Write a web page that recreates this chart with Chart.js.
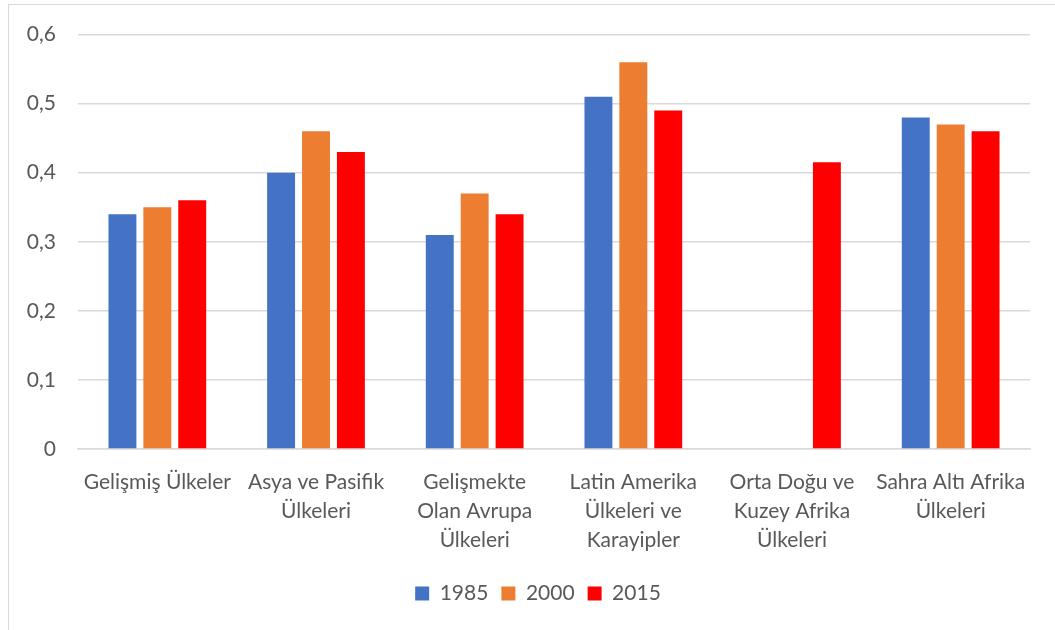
<!DOCTYPE html>
<html>
<head>
<meta charset="utf-8">
<script src="https://cdn.jsdelivr.net/npm/chart.js@4/dist/chart.umd.min.js"></script>
<style>
  html, body { margin: 0; padding: 0; background: #fff; }
  #frame { position: absolute; left: 8px; top: 4px; width: 1100px; height: 700px; border: 1px solid #d9d9d9; }
  #wrap { position: absolute; left: 0; top: 0; width: 1055px; height: 630px; }
</style>
</head>
<body>
<div id="frame"></div>
<div id="wrap"><canvas id="chart"></canvas></div>
<script>
// Bölgeler (kategori etiketleri, satırlara bölünmüş)
const regions = [
    ['Gelişmiş Ülkeler'],
    ['Asya ve Pasifik', 'Ülkeleri'],
    ['Gelişmekte', 'Olan Avrupa', 'Ülkeleri'],
    ['Latin Amerika', 'Ülkeleri ve', 'Karayipler'],
    ['Orta Doğu ve', 'Kuzey Afrika', 'Ülkeleri'],
    ['Sahra Altı Afrika', 'Ülkeleri']
];

// Yıllara göre değerler
const values1985 = [0.34, 0.40, 0.31, 0.51, null, 0.48];
const values2000 = [0.35, 0.46, 0.37, 0.56, null, 0.47];
const values2015 = [0.36, 0.43, 0.34, 0.49, 0.415, 0.46];

const yTicks = [0, 0.1, 0.2, 0.3, 0.4, 0.5, 0.6];

const textColor = '#595959';
const fontFamily = 'Lato, "Open Sans", sans-serif';

// Legend'ı grafik alanının ortasına kaydır (Excel'deki gibi)
const legendShift = {
    id: 'legendShift',
    afterLayout(chart) {
        const dx = 18;
        chart.legend.left += dx;
        chart.legend.right += dx;
    }
};

new Chart(document.getElementById('chart').getContext('2d'), {
    type: 'bar',
    data: {
        labels: regions,
        datasets: [
            { label: '1985', data: values1985, backgroundColor: '#4472c4' },
            { label: '2000', data: values2000, backgroundColor: '#ed7d31' },
            { label: '2015', data: values2015, backgroundColor: '#ff0000' }
        ]
    },
    options: {
        responsive: true,
        maintainAspectRatio: false,
        animation: false,
        datasets: {
            bar: { categoryPercentage: 0.66, barPercentage: 0.8 }
        },
        layout: { padding: { top: 16, right: 25, left: 10, bottom: 16 } },
        plugins: {
            tooltip: { enabled: false },
            legend: {
                position: 'bottom',
                labels: {
                    boxWidth: 14,
                    boxHeight: 14,
                    padding: 13,
                    color: textColor,
                    font: { family: fontFamily, size: 21 }
                }
            }
        },
        scales: {
            x: {
                afterFit: (axis) => { axis.height = 121; },
                grid: { display: false, drawTicks: false },
                border: { color: '#d9d9d9', width: 1.5 },
                ticks: {
                    color: textColor,
                    font: { family: fontFamily, size: 21, lineHeight: 1.38 },
                    maxRotation: 0,
                    autoSkip: false,
                    padding: 19
                }
            },
            y: {
                min: 0,
                max: 0.6,
                afterBuildTicks: (axis) => { axis.ticks = yTicks.map(v => ({ value: v })); },
                afterFit: (axis) => { axis.width = 68; },
                grid: { color: '#d9d9d9', lineWidth: 1.5, drawTicks: false },
                border: { display: false },
                ticks: {
                    color: textColor,
                    font: { family: fontFamily, size: 21 },
                    padding: 22,
                    callback: (v) => String(v).replace('.', ',')
                }
            }
        }
    },
    plugins: [legendShift]
});
</script>
</body>
</html>
